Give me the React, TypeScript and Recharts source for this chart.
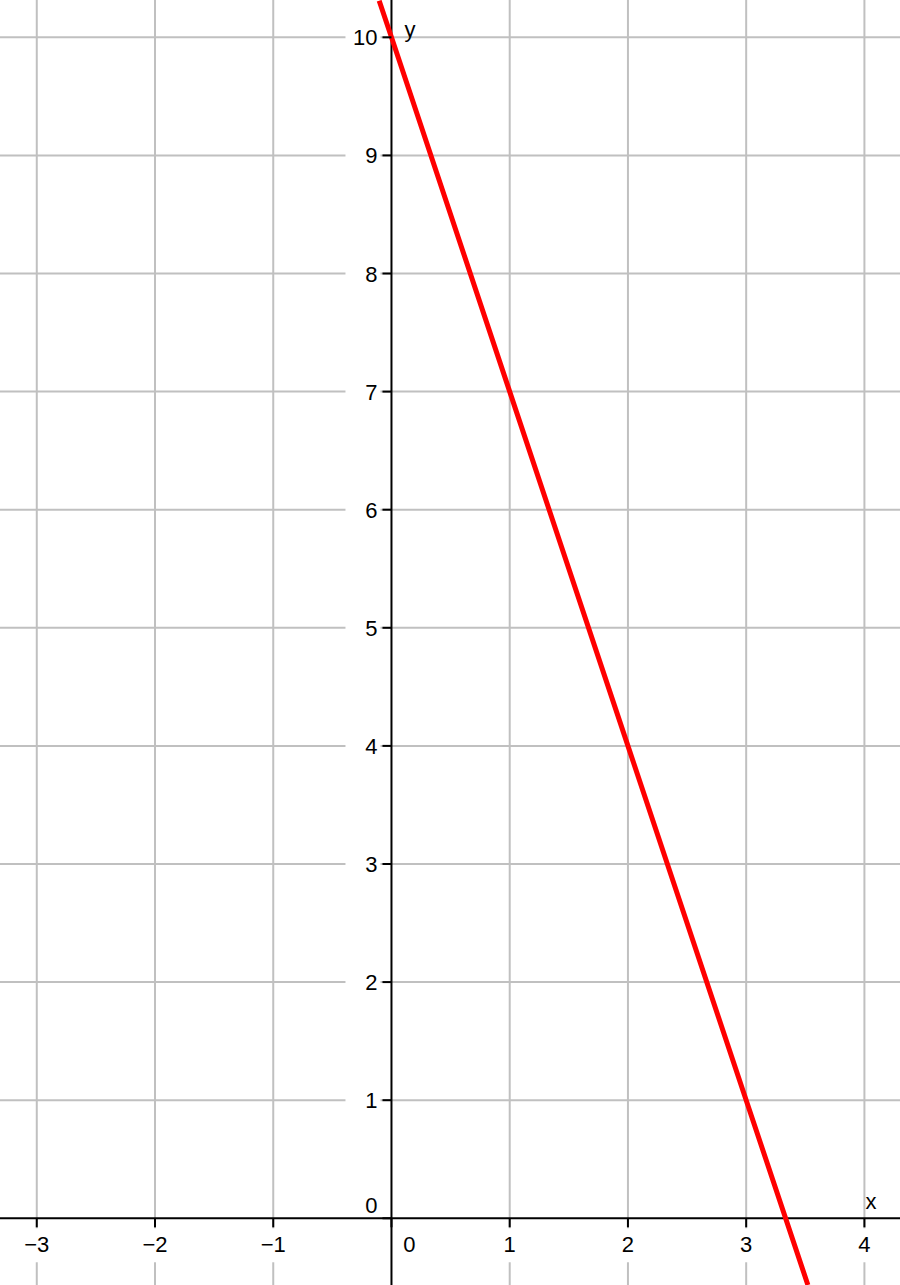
import { LineChart, Line, XAxis, YAxis, ReferenceLine, ReferenceDot } from 'recharts'

// y = -3x + 10, points read where the red line crosses the grid / leaves the frame
const linePoints = [
  { x: -0.104, y: 10.31 },
  { x: 0, y: 10 },
  { x: 1, y: 7 },
  { x: 2, y: 4 },
  { x: 3, y: 1 },
  { x: 3.522, y: -0.565 },
]

const xGrid = [-3, -2, -1, 1, 2, 3, 4]
const yGrid = [1, 2, 3, 4, 5, 6, 7, 8, 9, 10]
const xTickLabels = ['\u22123', '\u22122', '\u22121', '1', '2', '3', '4']
const yTickLabels = ['1', '2', '3', '4', '5', '6', '7', '8', '9', '10']

const xDomain = [-3.311, 4.301]
const yDomain = [-0.565, 10.316]

const FONT = '"Liberation Sans", Arial, sans-serif'
const GRID = '#c0c0c0'

function XTick({ viewBox, text }: { viewBox?: any; text: string }) {
  if (!viewBox) return null
  const cx = viewBox.x
  const cy = viewBox.y
  return (
    <g>
      <rect x={cx - 17} y={cy + 10} width={34} height={34} fill="#fff" />
      <line x1={cx} y1={cy} x2={cx} y2={cy + 9} stroke="#000" strokeWidth={2} />
      <text x={cx} y={cy + 34} textAnchor="middle" fontSize={22} fontFamily={FONT} fill="#000">
        {text}
      </text>
    </g>
  )
}

function YTick({ viewBox, text }: { viewBox?: any; text: string }) {
  if (!viewBox) return null
  const cx = viewBox.x
  const cy = viewBox.y
  return (
    <g>
      <rect x={cx - 46} y={cy - 17} width={35} height={34} fill="#fff" />
      <line x1={cx - 9} y1={cy} x2={cx} y2={cy} stroke="#000" strokeWidth={2} />
      <text x={cx - 14} y={cy + 8} textAnchor="end" fontSize={22} fontFamily={FONT} fill="#000">
        {text}
      </text>
    </g>
  )
}

function OriginTick({ viewBox }: { viewBox?: any }) {
  if (!viewBox) return null
  const cx = viewBox.x
  const cy = viewBox.y
  return (
    <g>
      <line x1={cx - 9} y1={cy} x2={cx} y2={cy} stroke="#000" strokeWidth={2} />
      <line x1={cx} y1={cy} x2={cx} y2={cy + 9} stroke="#000" strokeWidth={2} />
      <text x={cx - 14} y={cy - 5} textAnchor="end" fontSize={22} fontFamily={FONT} fill="#000">
        0
      </text>
      <text x={cx + 18} y={cy + 34} textAnchor="middle" fontSize={22} fontFamily={FONT} fill="#000">
        0
      </text>
    </g>
  )
}

function AxisName({ viewBox, text, dx, dy }: { viewBox?: any; text: string; dx: number; dy: number }) {
  if (!viewBox) return null
  return (
    <text x={viewBox.x + dx} y={viewBox.y + dy} textAnchor="start" fontSize={22} fontFamily={FONT} fill="#000">
      {text}
    </text>
  )
}

export default function App() {
  return (
    <div style={{ position: 'absolute', left: 0, top: 0, width: 900, height: 1285, background: '#fff' }}>
      <LineChart width={900} height={1285} data={linePoints} margin={{ top: 0, right: 0, bottom: 0, left: 0 }}>
        <XAxis type="number" dataKey="x" domain={xDomain} allowDataOverflow hide />
        <YAxis type="number" dataKey="y" domain={yDomain} allowDataOverflow hide />

        {xGrid.map(v => (
          <ReferenceLine key={'gx' + v} x={v} stroke={GRID} strokeWidth={2} />
        ))}
        {yGrid.map(v => (
          <ReferenceLine key={'gy' + v} y={v} stroke={GRID} strokeWidth={2} />
        ))}

        <ReferenceLine x={0} stroke="#000" strokeWidth={2} />
        <ReferenceLine y={0} stroke="#000" strokeWidth={2} />

        {xGrid.map((v, i) => (
          <ReferenceDot
            key={'tx' + v}
            x={v}
            y={0}
            r={0}
            fill="none"
            stroke="none"
            label={(p: any) => <XTick viewBox={p.viewBox} text={xTickLabels[i]} />}
          />
        ))}
        {yGrid.map((v, i) => (
          <ReferenceDot
            key={'ty' + v}
            x={0}
            y={v}
            r={0}
            fill="none"
            stroke="none"
            label={(p: any) => <YTick viewBox={p.viewBox} text={yTickLabels[i]} />}
          />
        ))}
        <ReferenceDot x={0} y={0} r={0} fill="none" stroke="none" label={(p: any) => <OriginTick viewBox={p.viewBox} />} />
        <ReferenceDot
          x={0}
          y={10}
          r={0}
          fill="none"
          stroke="none"
          label={(p: any) => <AxisName viewBox={p.viewBox} text="y" dx={13} dy={0} />}
        />
        <ReferenceDot
          x={4}
          y={0}
          r={0}
          fill="none"
          stroke="none"
          label={(p: any) => <AxisName viewBox={p.viewBox} text="x" dx={1} dy={-9} />}
        />

        <Line
          type="linear"
          dataKey="y"
          stroke="#ff0000"
          strokeWidth={5}
          dot={false}
          activeDot={false}
          isAnimationActive={false}
        />
      </LineChart>
    </div>
  )
}
